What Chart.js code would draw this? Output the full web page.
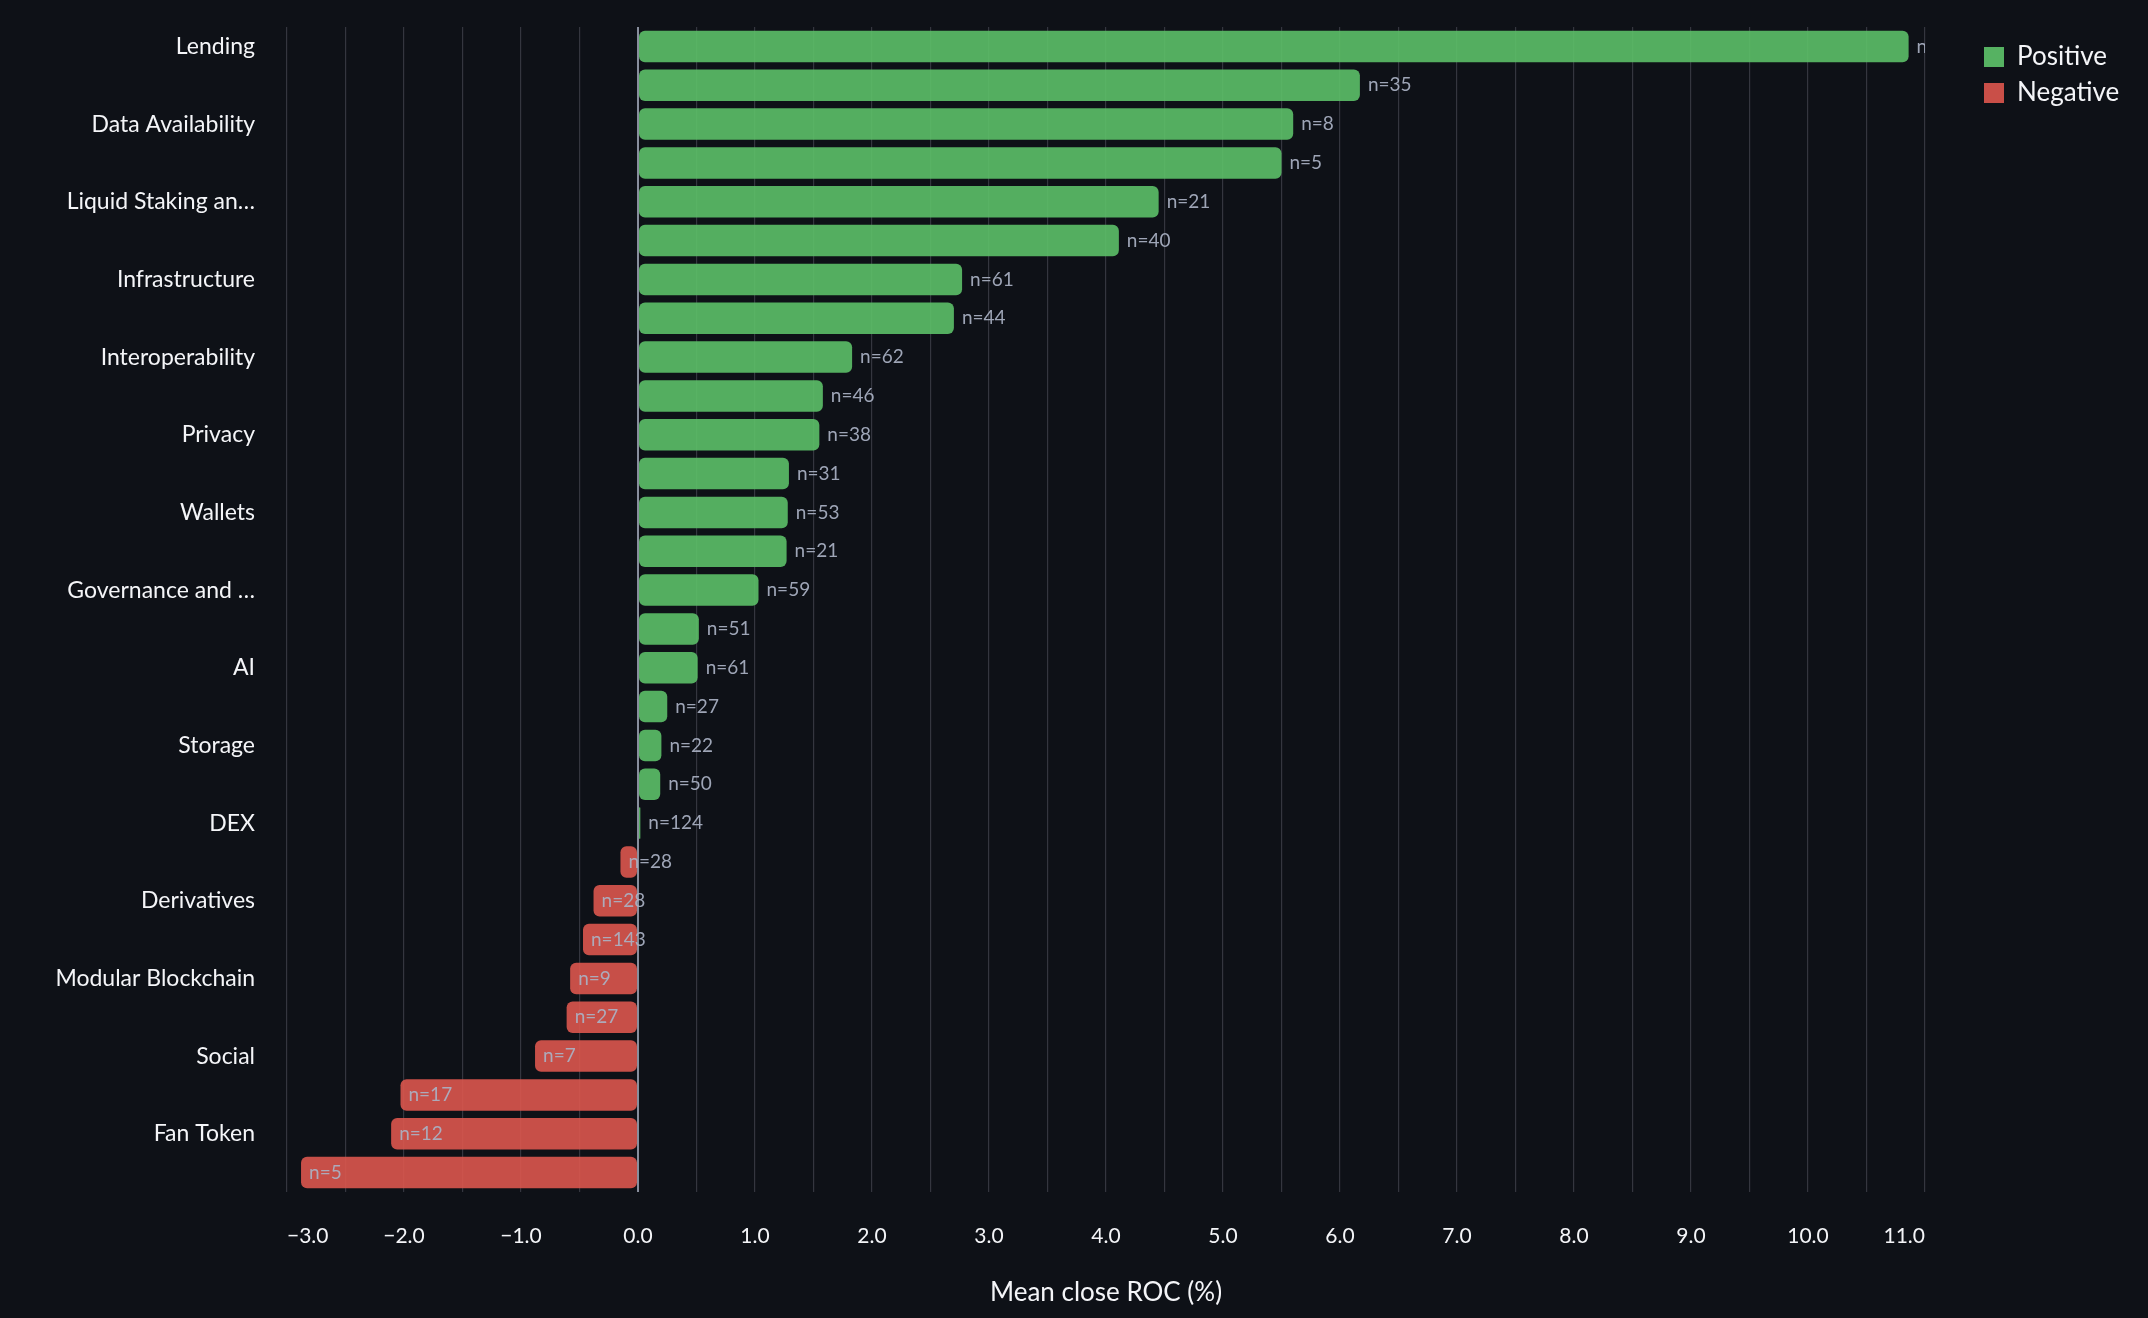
<!DOCTYPE html>
<html>
<head>
<meta charset="utf-8">
<title>Mean close ROC by category</title>
<script src="https://cdn.jsdelivr.net/npm/chart.js@4.4.1/dist/chart.umd.min.js"></script>
<style>
    html, body { margin: 0; padding: 0; background: #0e1117; }
    #wrap { position: relative; width: 2148px; height: 1318px; }
</style>
</head>
<body>
<div id="wrap"><canvas id="rocChart"></canvas></div>
<script>
'use strict';

// ── Data ──────────────────────────────────────────────────
// Only every other category name is shown on the axis; the hidden ones are left blank.
const categories = [
    'Lending', '', 'Data Availability', '', 'Liquid Staking an…', '',
    'Infrastructure', '', 'Interoperability', '', 'Privacy', '',
    'Wallets', '', 'Governance and …', '', 'AI', '',
    'Storage', '', 'DEX', '', 'Derivatives', '',
    'Modular Blockchain', '', 'Social', '', 'Fan Token', ''
];
const meanRoc = [
    10.86, 6.17, 5.60, 5.50, 4.45, 4.11, 2.77, 2.70, 1.83, 1.58,
    1.55, 1.29, 1.28, 1.27, 1.03, 0.52, 0.51, 0.25, 0.20, 0.19,
    0.02, -0.15, -0.38, -0.47, -0.58, -0.61, -0.88, -2.03, -2.11, -2.88
];
const sampleCounts = [
    6, 35, 8, 5, 21, 40, 61, 44, 62, 46,
    38, 31, 53, 21, 59, 51, 61, 27, 22, 50,
    124, 28, 28, 143, 9, 27, 7, 17, 12, 5
];
const xMin = -3;
const xMax = 11;

// ── Look ──────────────────────────────────────────────────
const FONT = 'Lato, "Source Sans Pro", "Noto Sans", sans-serif';
const TEXT = '#f4f5f8';
const GREEN = 'rgba(92,192,104,0.9)';
const RED = 'rgba(220,86,78,0.9)';
const GREEN_KEY = '#56b262';
const RED_KEY = '#c94f48';

const positive = meanRoc.map(v => (v >= 0 ? v : null));
const negative = meanRoc.map(v => (v < 0 ? v : null));

const fmt = v => (v < 0 ? '\u2212' : '') + Math.abs(v).toFixed(1);

// ── n=… labels next to each bar, clipped to the plot ─────
const countLabels = {
    id: 'countLabels',
    afterDatasetsDraw(chart) {
        const { ctx, chartArea, scales } = chart;
        ctx.save();
        ctx.beginPath();
        ctx.rect(chartArea.left, chartArea.top, chartArea.width, chartArea.height);
        ctx.clip();
        ctx.font = '19px ' + FONT;
        ctx.fillStyle = 'rgba(170,178,196,0.92)';
        ctx.textAlign = 'left';
        ctx.textBaseline = 'middle';
        meanRoc.forEach((v, i) => {
            const x = scales.x.getPixelForValue(v) + 8;
            const y = scales.y.getPixelForValue(i);
            ctx.fillText('n=' + sampleCounts[i], x, y);
        });
        ctx.restore();
    }
};

// ── Legend in the top right corner ────────────────────────
const sideLegend = {
    id: 'sideLegend',
    afterDraw(chart) {
        const { ctx } = chart;
        const items = chart.data.datasets.map(d => ({ text: d.label, color: d.keyColor }));
        ctx.save();
        ctx.font = '26px ' + FONT;
        ctx.textBaseline = 'middle';
        ctx.textAlign = 'left';
        items.forEach((it, i) => {
            const y = 57 + i * 36;
            ctx.fillStyle = it.color;
            ctx.fillRect(1984, y - 10, 20, 20);
            ctx.fillStyle = TEXT;
            ctx.fillText(it.text, 2017, y);
        });
        ctx.restore();
    }
};

new Chart(document.getElementById('rocChart').getContext('2d'), {
    type: 'bar',
    data: {
        labels: categories,
        datasets: [
            { label: 'Positive', data: positive, backgroundColor: GREEN, keyColor: GREEN_KEY },
            { label: 'Negative', data: negative, backgroundColor: RED, keyColor: RED_KEY }
        ]
    },
    options: {
        indexAxis: 'y',
        responsive: true,
        maintainAspectRatio: false,
        animation: false,
        layout: { padding: { top: 27, right: 223, bottom: 0, left: 0 } },
        datasets: {
            bar: {
                grouped: false,
                categoryPercentage: 1,
                barPercentage: 0.81,
                borderRadius: 6,
                borderSkipped: false
            }
        },
        plugins: {
            legend: { display: false },
            tooltip: { enabled: false }
        },
        scales: {
            x: {
                min: xMin,
                max: xMax,
                afterFit: s => { s.height = 126; },
                border: { display: false },
                grid: {
                    drawTicks: false,
                    color: c => (c.tick && c.tick.value === 0 ? 'rgba(150,156,172,0.9)' : '#34363f'),
                    lineWidth: c => (c.tick && c.tick.value === 0 ? 2 : 1.2)
                },
                ticks: {
                    stepSize: 0.5,
                    autoSkip: false,
                    maxRotation: 0,
                    align: 'inner',
                    padding: 32,
                    color: TEXT,
                    font: { family: FONT, size: 21 },
                    callback: v => (Number.isInteger(v) ? fmt(v) : '')
                },
                title: {
                    display: true,
                    text: 'Mean close ROC (%)',
                    color: TEXT,
                    font: { family: FONT, size: 26 },
                    padding: { top: 0, bottom: 10 }
                }
            },
            y: {
                // fixed label column; no extra room for the first label's half height
                afterFit: s => { s.width = 287; s.paddingTop = 0; s.paddingBottom = 0; },
                border: { display: false },
                grid: { display: false, drawTicks: false },
                ticks: {
                    autoSkip: false,
                    padding: 32,
                    color: TEXT,
                    font: { family: FONT, size: 23 }
                }
            }
        }
    },
    plugins: [countLabels, sideLegend]
});
</script>
</body>
</html>
